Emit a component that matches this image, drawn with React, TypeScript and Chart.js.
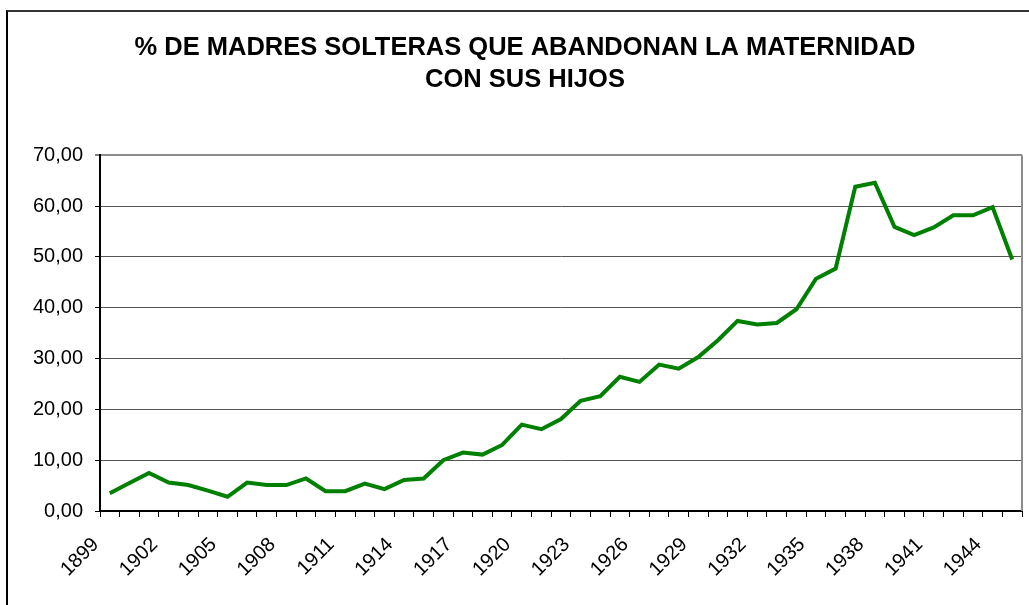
import React, { useEffect, useRef } from "react";
import { Chart, registerables } from "chart.js";

Chart.register(...registerables);

const TITLE_LINES = [
  "% DE MADRES SOLTERAS QUE ABANDONAN LA MATERNIDAD",
  "CON SUS HIJOS",
];

const YEARS = [
  "1899", "1900", "1901", "1902", "1903", "1904", "1905", "1906", "1907", "1908",
  "1909", "1910", "1911", "1912", "1913", "1914", "1915", "1916", "1917", "1918",
  "1919", "1920", "1921", "1922", "1923", "1924", "1925", "1926", "1927", "1928",
  "1929", "1930", "1931", "1932", "1933", "1934", "1935", "1936", "1937", "1938",
  "1939", "1940", "1941", "1942", "1943", "1944", "1945",
];

const PERCENT = [
  3.5, 5.5, 7.5, 5.6, 5.1, 4.0, 2.8, 5.6, 5.1, 5.1,
  6.4, 3.9, 3.9, 5.4, 4.3, 6.1, 6.4, 10.0, 11.5, 11.1,
  13.0, 17.0, 16.1, 18.1, 21.7, 22.6, 26.4, 25.4, 28.8, 28.0,
  30.3, 33.6, 37.4, 36.7, 37.0, 39.7, 45.7, 47.7, 63.8, 64.6,
  55.9, 54.3, 55.8, 58.2, 58.2, 59.8, 49.5,
];

const Y_MIN = 0;
const Y_MAX = 70;
const Y_STEP = 10;
const LABEL_EVERY = 3;

const plotBorder = {
  id: "plotBorder",
  afterDraw(chart: any) {
    const { ctx, chartArea } = chart;
    ctx.save();
    ctx.strokeStyle = "#8c8c8c";
    ctx.lineWidth = 2;
    ctx.beginPath();
    ctx.moveTo(chartArea.right, chartArea.top);
    ctx.lineTo(chartArea.right, chartArea.bottom);
    ctx.stroke();
    ctx.restore();
  },
};

export default function App() {
  const canvasRef = useRef<HTMLCanvasElement | null>(null);

  useEffect(() => {
    const canvas = canvasRef.current;
    if (!canvas) return;
    const chart = new Chart(canvas, {
      type: "line",
      data: {
        labels: YEARS,
        datasets: [
          {
            data: PERCENT,
            borderColor: "#008000",
            backgroundColor: "#008000",
            borderWidth: 4,
            pointRadius: 0,
            tension: 0,
            fill: false,
          },
        ],
      },
      options: {
        responsive: false,
        animation: false,
        layout: { padding: { left: 28, right: 7, top: 0, bottom: 0 } },
        plugins: {
          legend: { display: false },
          tooltip: { enabled: false },
          title: {
            display: true,
            text: TITLE_LINES,
            color: "#000",
            font: { family: "'Liberation Sans', Arial, sans-serif", size: 25.5, weight: "bold", lineHeight: 1.26 },
            padding: { top: 32, bottom: 59 },
          },
        },
        scales: {
          x: {
            type: "category",
            offset: true,
            afterFit(scale: any) {
              scale.height = 94;
              scale.paddingLeft = 0;
              scale.paddingRight = 0;
            },
            grid: {
              offset: true,
              drawOnChartArea: false,
              drawTicks: true,
              tickLength: 6,
              tickColor: "#000",
              tickWidth: 1,
            },
            border: { display: true, color: "#000", width: 2 },
            ticks: {
              autoSkip: false,
              minRotation: 45,
              maxRotation: 45,
              padding: 16,
              labelOffset: -14,
              color: "#000",
              font: { family: "'Liberation Sans', Arial, sans-serif", size: 20 },
              callback: (_v: any, i: number) => (i % LABEL_EVERY === 0 ? YEARS[i] : ""),
            },
          },
          y: {
            min: Y_MIN,
            max: Y_MAX,
            afterFit(scale: any) {
              scale.width = 72;
            },
            grid: {
              color: (ctx: any) => (ctx.tick && ctx.tick.value === Y_MAX ? "#8c8c8c" : "#555"),
              lineWidth: (ctx: any) => (ctx.tick && ctx.tick.value === Y_MAX ? 2 : 1),
              drawTicks: true,
              tickLength: 5,
              tickColor: "#000",
              tickWidth: 1,
            },
            border: { display: true, color: "#000", width: 2 },
            ticks: {
              stepSize: Y_STEP,
              padding: 12,
              color: "#000",
              font: { family: "'Liberation Sans', Arial, sans-serif", size: 20 },
              callback: (v: any) => Number(v).toFixed(2).replace(".", ","),
            },
          },
        },
      },
      plugins: [plotBorder],
    });
    return () => chart.destroy();
  }, []);

  return (
    <div
      style={{
        position: "fixed",
        left: 0,
        top: 0,
        width: 1029,
        height: 605,
        background: "#fff",
        overflow: "hidden",
      }}
    >
      <canvas ref={canvasRef} width={1029} height={605} style={{ position: "absolute", left: 0, top: 0 }} />
      <div
        style={{
          position: "absolute",
          left: 6,
          top: 10,
          width: 1100,
          height: 700,
          borderLeft: "2px solid #000",
          borderTop: "2px solid #333",
          pointerEvents: "none",
        }}
      />
    </div>
  );
}
